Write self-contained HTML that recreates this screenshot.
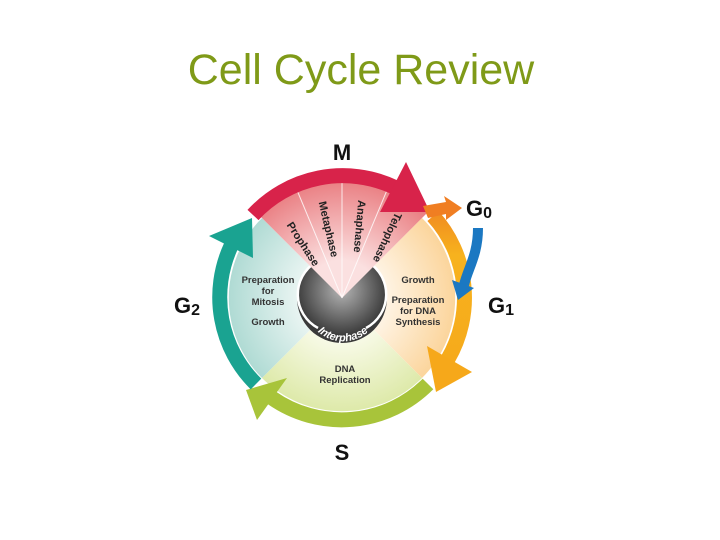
<!DOCTYPE html>
<html><head><meta charset="utf-8"><style>
html,body{margin:0;padding:0;background:#fff;width:720px;height:540px;overflow:hidden}
svg{display:block}
</style></head><body>
<svg width="720" height="540" viewBox="0 0 720 540" xmlns="http://www.w3.org/2000/svg" xmlns:xlink="http://www.w3.org/1999/xlink" font-family="Liberation Sans, sans-serif">
<defs>
<radialGradient id="gM" cx="342" cy="298" r="125" gradientUnits="userSpaceOnUse"><stop offset="0.3" stop-color="#fbe0e0"/><stop offset="1" stop-color="#e8767a"/></radialGradient>
<radialGradient id="gG1" cx="342" cy="298" r="115" gradientUnits="userSpaceOnUse"><stop offset="0.3" stop-color="#fff8ee"/><stop offset="1" stop-color="#fbd49a"/></radialGradient>
<radialGradient id="gS" cx="342" cy="298" r="115" gradientUnits="userSpaceOnUse"><stop offset="0.3" stop-color="#fbfcef"/><stop offset="1" stop-color="#dde9a8"/></radialGradient>
<radialGradient id="gG2" cx="342" cy="298" r="115" gradientUnits="userSpaceOnUse"><stop offset="0.3" stop-color="#f1f8f6"/><stop offset="1" stop-color="#aedad3"/></radialGradient>
<radialGradient id="gC" cx="342" cy="290" r="46" gradientUnits="userSpaceOnUse"><stop offset="0" stop-color="#b5b5b5"/><stop offset="1" stop-color="#3a3a3a"/></radialGradient>
<linearGradient id="gOr" x1="0" y1="210" x2="0" y2="390" gradientUnits="userSpaceOnUse"><stop offset="0" stop-color="#f08a20"/><stop offset="0.25" stop-color="#f7b21e"/><stop offset="1" stop-color="#f6a81a"/></linearGradient>
<path id="ip" d="M306,312 A38,38 0 0 0 380,312"/>
</defs>
<text x="361" y="84" font-size="43" fill="#7f9a18" text-anchor="middle">Cell Cycle Review</text>

<path d="M342,298 L422,218 A113,113 0 0 1 422,378 Z" fill="url(#gG1)"/>
<path d="M342,298 L422,378 A113,113 0 0 1 262,378 Z" fill="url(#gS)"/>
<path d="M342,298 L262,378 A113,113 0 0 1 262,218 Z" fill="url(#gG2)"/>
<circle cx="342" cy="298" r="45" fill="url(#gC)"/>
<path d="M316,262 A38,38 0 0 0 318,328" fill="none" stroke="#fff" stroke-width="2.5"/>
<path d="M368,262 A38,38 0 0 1 366,328" fill="none" stroke="#fff" stroke-width="2.5"/>
<text font-size="11" font-weight="bold" font-style="italic" fill="#fff"><textPath xlink:href="#ip" href="#ip" startOffset="50%" text-anchor="middle">Interphase</textPath></text>
<path d="M342,298 L254,210 A125,125 0 0 1 430,210 Z" fill="url(#gM)"/>
<g stroke="#fff" stroke-width="1" opacity="0.8">
<line x1="342" y1="298" x2="294" y2="183"/><line x1="342" y1="298" x2="342" y2="173"/><line x1="342" y1="298" x2="390" y2="183"/></g>
<g font-size="11" font-weight="bold" fill="#222">
<text transform="translate(300,246) rotate(57)" text-anchor="middle">Prophase</text>
<text transform="translate(325,230) rotate(77)" text-anchor="middle">Metaphase</text>
<text transform="translate(356,226) rotate(95)" text-anchor="middle">Anaphase</text>
<text transform="translate(384,236) rotate(115)" text-anchor="middle">Telophase</text>
</g>
<g font-size="9.5" font-weight="bold" fill="#333" text-anchor="middle">
<text x="268" y="283">Preparation</text><text x="268" y="294">for</text><text x="268" y="305">Mitosis</text><text x="268" y="325">Growth</text>
<text x="418" y="283">Growth</text><text x="418" y="303">Preparation</text><text x="418" y="314">for DNA</text><text x="418" y="325">Synthesis</text>
<text x="345" y="372">DNA</text><text x="345" y="383">Replication</text>
</g>
<path d="M253,215 A122,122 0 0 1 394,187" fill="none" stroke="#d8234a" stroke-width="15"/>
<polygon points="380,212 406,162 430,212" fill="#d8234a"/>
<path d="M433,216 A122,122 0 0 1 448,359" fill="none" stroke="url(#gOr)" stroke-width="15"/>
<polygon points="427,346 472,372 436,392" fill="#f6a81a"/>
<path d="M428,384 A122,122 0 0 1 272,398" fill="none" stroke="#a8c43a" stroke-width="15"/>
<polygon points="287,378 257,420 246,390" fill="#a8c43a"/>
<path d="M256,384 A122,122 0 0 1 231,246" fill="none" stroke="#1aa391" stroke-width="15"/>
<polygon points="253,258 209,236 252,218" fill="#1aa391"/>
<polygon points="423,206 446,202 444,196 462,208 446,220 446,214 428,218" fill="#f07e22"/>
<path d="M478,228 C478,255 468,268 464,285" fill="none" stroke="#1b78c2" stroke-width="10"/>
<polygon points="452,280 474,288 458,300" fill="#1b78c2"/>
<g font-size="22" font-weight="bold" fill="#111">
<text x="342" y="160" text-anchor="middle">M</text>
<text x="466" y="216">G<tspan font-size="16" dy="2">0</tspan></text>
<text x="488" y="313">G<tspan font-size="16" dy="2">1</tspan></text>
<text x="174" y="313">G<tspan font-size="16" dy="2">2</tspan></text>
<text x="342" y="460" text-anchor="middle">S</text>
</g>
</svg>
</body></html>
